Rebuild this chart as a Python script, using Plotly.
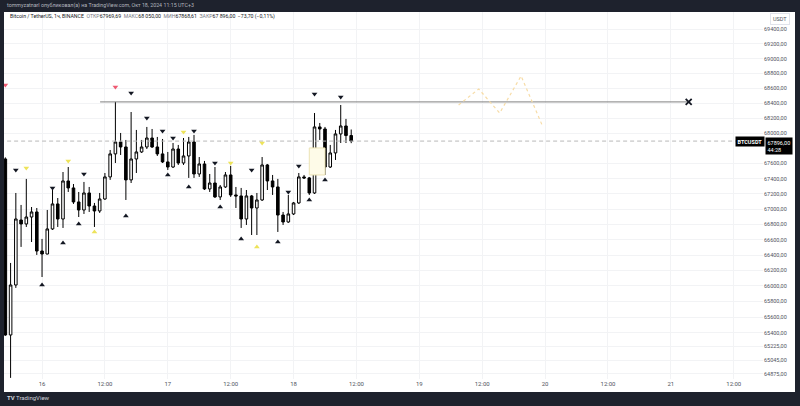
import math
import pandas as pd
import plotly.graph_objects as go

# ---------------- data ----------------
times = pd.date_range("2024-10-15 17:00", periods=67, freq="h")

opens = [67659, 65371, 66013, 66857, 66805, 66896, 66962, 66453, 66414, 66740,
         67067, 66870, 67369, 67277, 67093, 66988, 67211, 67040, 66975, 67132,
         67422, 67726, 67884, 67818, 67383, 67659, 67752, 67818, 67937, 67818,
         67726, 67620, 67553, 67791, 67606, 67699, 67884, 67461, 67593, 67264,
         67342, 67159, 67290, 67448, 67185, 67172, 66870, 67172, 67014, 67119,
         67580, 67369, 67290, 66922, 66831, 66936, 67080, 67422, 67409, 67211,
         68084, 68057, 67553, 67739, 67991, 68097, 67969.69]
highs = [67680, 66298, 67211, 67054, 67396, 67027, 67014, 66610, 66988, 67250,
         67145, 67487, 67553, 67329, 67224, 67356, 67290, 67080, 67211, 67474,
         67778, 68418, 68004, 67911, 68283, 68044, 67911, 68084, 68057, 67951,
         67924, 67752, 67871, 67845, 67937, 67951, 67978, 67685, 67633, 67461,
         67553, 67316, 67487, 67567, 67290, 67277, 67250, 67185, 67211, 67685,
         67593, 67448, 67396, 66962, 67185, 67093, 67474, 67448, 67422, 68270,
         68137, 68084, 67845, 68044, 68377, 68191, 68050.00]
lows = [65360, 64825, 65975, 66506, 66766, 66570, 66402, 66116, 66410, 66727,
        66766, 66753, 67224, 67067, 66896, 66936, 66962, 66766, 66949, 67119,
        67383, 67606, 67712, 67119, 67342, 67474, 67739, 67791, 67805, 67699,
        67606, 67514, 67540, 67580, 67580, 67409, 67409, 67422, 67250, 67224,
        67145, 67119, 67277, 67159, 67014, 66753, 66792, 66661, 66661, 67106,
        67250, 67185, 66701, 66792, 66819, 66922, 67067, 67396, 67185, 67198,
        67911, 67448, 67540, 67646, 67871, 67871, 67868.61]
closes = [65371, 66013, 66870, 66805, 66896, 66962, 66453, 66414, 66740, 67067,
          66870, 67369, 67277, 67093, 66988, 67211, 67040, 66975, 67132, 67422,
          67726, 67884, 67818, 67383, 67659, 67752, 67818, 67937, 67818, 67726,
          67620, 67553, 67791, 67606, 67699, 67884, 67461, 67593, 67264, 67342,
          67159, 67290, 67448, 67185, 67172, 66870, 67172, 67014, 67119, 67580,
          67369, 67290, 66922, 66831, 66936, 67080, 67422, 67409, 67211, 68084,
          68057, 67553, 67739, 67991, 68097, 67969.69, 67896.00]

# signal markers: candle index and price
down_black_idx = [2, 9, 15, 24, 27, 30, 32, 36, 40, 47, 54, 56, 59, 64]
down_black_price = [67514, 67277, 67461, 68538, 68204, 68030, 67937, 68030, 67606, 67514, 67224, 67567, 68525, 68484]
down_yellow_idx = [4, 12, 34, 43, 49]
down_yellow_price = [67540, 67633, 68017, 67606, 67871]
down_red_idx = [0, 21]
down_red_price = [68644, 68618]
up_black_idx = [7, 11, 14, 23, 31, 35, 41, 45, 52, 58, 61]
up_black_price = [66013, 66557, 66805, 66909, 67448, 67290, 67027, 66610, 66570, 67119, 67383]
up_yellow_idx = [17, 48]
up_yellow_price = [66701, 66506]

# drawings
res_level = 68418
res_times = ["2024-10-16 11:05", "2024-10-21 03:24"]
proj_times = ["2024-10-19 07:30", "2024-10-19 11:20", "2024-10-19 15:20", "2024-10-19 19:25", "2024-10-19 23:35"]
proj_prices = [68377, 68591, 68270, 68766, 68084]
box_times = ["2024-10-18 03:00", "2024-10-18 06:00"]
box_prices = [67448, 67805]
last_price = closes[-1]
last_line_times = ["2024-10-15 16:00", "2024-10-21 13:31"]

price_ticks = [69400, 69200, 69000, 68800, 68600, 68400, 68200, 68000, 67600, 67400, 67200,
               67000, 66800, 66600, 66400, 66200, 66000, 65800, 65600, 65400, 65225, 65045, 64875]
price_tick_text = ["%d,00" % v for v in price_ticks]
time_ticks = ["2024-10-16 00:00", "2024-10-16 12:00", "2024-10-17 00:00", "2024-10-17 12:00",
              "2024-10-18 00:00", "2024-10-18 12:00", "2024-10-19 00:00", "2024-10-19 12:00",
              "2024-10-20 00:00", "2024-10-20 12:00", "2024-10-21 00:00", "2024-10-21 12:00"]
time_tick_text = ["16", "12:00", "17", "12:00", "18", "12:00", "19", "12:00", "20", "12:00", "21", "12:00"]

FONT = "Roboto, Arial, sans-serif"

fig = go.Figure()

# highlighted box (below candles)
fig.add_trace(go.Scatter(
    x=[box_times[0], box_times[1], box_times[1], box_times[0], box_times[0]],
    y=[box_prices[0], box_prices[0], box_prices[1], box_prices[1], box_prices[0]],
    mode="lines", fill="toself", fillcolor="rgba(254,251,232,1)",
    line=dict(color="#ebe2b4", width=1), hoverinfo="skip", showlegend=False))

# last price dashed line
fig.add_trace(go.Scatter(
    x=last_line_times, y=[last_price, last_price], mode="lines",
    line=dict(color="#b8b8b8", width=1, dash="4px,3px"), hoverinfo="skip", showlegend=False))

fig.add_trace(go.Candlestick(
    x=times, open=opens, high=highs, low=lows, close=closes,
    increasing=dict(line=dict(color="#000000", width=1), fillcolor="#ffffff"),
    decreasing=dict(line=dict(color="#000000", width=1), fillcolor="#000000"),
    whiskerwidth=0, showlegend=False, hoverinfo="skip"))

# resistance line with x marker
fig.add_trace(go.Scatter(
    x=res_times, y=[res_level, res_level], mode="lines",
    line=dict(color="#7f7f7f", width=1), hoverinfo="skip", showlegend=False))
fig.add_trace(go.Scatter(
    x=[res_times[1]], y=[res_level], mode="markers",
    marker=dict(symbol="x-thin", size=6, line=dict(width=1.8, color="#131722")),
    hoverinfo="skip", showlegend=False))

# projection zigzag
fig.add_trace(go.Scatter(
    x=proj_times, y=proj_prices, mode="lines",
    line=dict(color="#f7dca6", width=1.2, dash="dot"), hoverinfo="skip", showlegend=False))


def add_markers(idx, prices, symbol, color):
    fig.add_trace(go.Scatter(
        x=[times[i] for i in idx], y=prices, mode="markers",
        marker=dict(symbol=symbol, size=5, color=color, line=dict(width=0)),
        hoverinfo="skip", showlegend=False))


add_markers(down_black_idx, down_black_price, "triangle-down", "#131722")
add_markers(down_yellow_idx, down_yellow_price, "triangle-down", "#ede35a")
add_markers(down_red_idx, down_red_price, "triangle-down", "#ef5a72")
add_markers(up_black_idx, up_black_price, "triangle-up", "#131722")
add_markers(up_yellow_idx, up_yellow_price, "triangle-up", "#ede35a")

L, R, T, B = 4, 37, 12, 27
W, H = 800, 406
pw, ph = W - L - R, H - T - B


def px(xp):
    return (xp - L) / pw


def py(yp):
    return (H - B - yp) / ph


fig.update_layout(
    width=W, height=H,
    margin=dict(l=L, r=R, t=T, b=B, pad=0),
    paper_bgcolor="#1e222d", plot_bgcolor="#ffffff",
    font=dict(family=FONT, size=6, color="#50535e"),
    showlegend=False,
    shapes=[dict(type="rect", xref="paper", yref="paper", x0=0, x1=px(795), y0=py(392), y1=1,
                 fillcolor="#ffffff", line=dict(width=0), layer="below")],
    xaxis=dict(type="date", range=["2024-10-15 16:44:30", "2024-10-21 17:35"],
               tickvals=time_ticks, ticktext=time_tick_text, showgrid=True, gridcolor="#f2f3f5",
               gridwidth=1, zeroline=False, showline=False, ticks="", rangeslider=dict(visible=False),
               tickfont=dict(size=6, color="#50535e")),
    yaxis=dict(type="log", range=[math.log10(64811), math.log10(69631)], side="right",
               tickvals=price_ticks, ticktext=price_tick_text, showgrid=True, gridcolor="#f2f3f5",
               gridwidth=1, zeroline=False, showline=False, ticks="",
               tickfont=dict(size=5.5, color="#50535e")),
)

ann = []
ann.append(dict(xref="paper", yref="paper", x=px(5), y=py(5.5), xanchor="left", yanchor="middle",
                text="tommyzatnarl опубликовал(а) на TradingView.com, Окт 18, 2024 11:15 UTC+3",
                showarrow=False, font=dict(size=5.3, color="#b2b5be", family=FONT)))
ann.append(dict(xref="paper", yref="paper", x=px(8), y=py(17), xanchor="left", yanchor="middle",
                text=("Bitcoin / TetherUS, 1ч, BINANCE  <span style='color:#787b86'>ОТКР</span>67969,69  "
                      "<span style='color:#787b86'>МАКС</span>68 050,00  <span style='color:#787b86'>МИН</span>67868,61  "
                      "<span style='color:#787b86'>ЗАКР</span>67 896,00  −73,70 (−0,11%)"),
                showarrow=False, font=dict(size=5.2, color="#131722", family=FONT)))
ann.append(dict(xref="paper", yref="paper", x=px(780), y=py(19), xanchor="center", yanchor="middle",
                text="USDT", showarrow=False, bgcolor="#ffffff", bordercolor="#e0e3eb", borderwidth=1,
                borderpad=2, font=dict(size=5.5, color="#50535e", family=FONT)))
ann.append(dict(xref="paper", yref="y", x=px(765), y=math.log10(last_price), xanchor="right", yanchor="middle",
                text="<b>BTCUSDT</b>", showarrow=False, bgcolor="#000000", borderpad=1.5,
                font=dict(size=5.5, color="#ffffff", family=FONT)))
ann.append(dict(xref="paper", yref="paper", x=px(765), y=py(137), xanchor="left", yanchor="top",
                text="67896,00<br>44:28", showarrow=False, bgcolor="#000000", borderpad=1.5, align="left",
                font=dict(size=5.5, color="#ffffff", family=FONT)))
ann.append(dict(xref="paper", yref="paper", x=px(5), y=py(397.5), xanchor="left", yanchor="middle",
                text="<b>TV</b> TradingView", showarrow=False,
                font=dict(size=6, color="#d1d4dc", family=FONT)))
fig.update_layout(annotations=ann)

fig.write_html("out.html")
